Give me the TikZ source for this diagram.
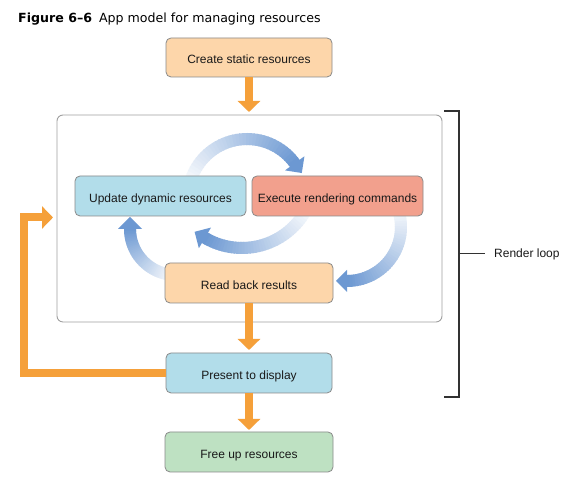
\documentclass[tikz,border=0pt]{standalone}
\usepackage{fontspec}
\setmainfont{Liberation Sans}
\newfontfamily\titlefont{DejaVu Sans}
\usetikzlibrary{arrows.meta,calc}
\definecolor{peach}{RGB}{253,214,170}
\definecolor{skyblue}{RGB}{178,221,234}
\definecolor{salmon}{RGB}{242,160,141}
\definecolor{mint}{RGB}{190,225,194}
\definecolor{boxgray}{RGB}{138,138,138}
\definecolor{framegray}{RGB}{160,160,160}
\definecolor{orarrow}{RGB}{245,160,58}
\definecolor{arrowblue}{RGB}{108,152,210}
\definecolor{bracketgray}{RGB}{50,50,50}
\tikzset{
  stepbox/.style={draw=boxgray, line width=0.8pt, rounded corners=5pt,
    minimum width=167pt, minimum height=40pt, inner sep=0pt, outer sep=0pt,
    text height=12.5pt, text depth=0pt,
    font=\fontsize{12}{14}\selectfont, text=black!90},
  framebox/.style={draw=framegray, line width=0.9pt, rounded corners=6pt,
    inner sep=0pt, outer sep=0pt},
  orflow/.style={draw=orarrow, line width=8pt, line join=miter,
    -{Triangle[width=22pt,length=11pt]}},
  bracketline/.style={draw=bracketgray, line width=1.4pt}
}
% cx cy r start end headlength halfheadwidth
\newcommand{\gradarrow}[7]{%
  \foreach \i in {0,...,39}{%
    \pgfmathsetmacro\aa{#4+(#5-#4)*\i/40}%
    \pgfmathsetmacro\ab{#4+(#5-#4)*(\i+1.4)/40}%
    \pgfmathtruncatemacro\pc{5+95*\i/39}%
    \draw[line width=12pt, draw=arrowblue!\pc!white] (#1,#2) ++(\aa:#3)
      arc[start angle=\aa, end angle=\ab, radius=#3];
  }%
  \fill[arrowblue] ($(#1,#2)+(#5:#3+#7)$) -- ($(#1,#2)+(#5:#3)+(#5-90:#6)$)
    -- ($(#1,#2)+(#5:#3-#7)$) -- cycle;
}
\begin{document}
\begin{tikzpicture}[x=1pt,y=1pt]
\useasboundingbox[fill=white] (0,0) rectangle (576,486);

\node[anchor=base west, inner sep=0pt, font=\titlefont\fontsize{12.6}{14}\selectfont] (title) at (18,463)
  {\textbf{Figure 6–6}\hspace{7pt}App model for managing resources};

\node[framebox, minimum width=385pt, minimum height=207pt] (frame) at (249.5,267.5) {};

% curved blue arrows
\gradarrow{247}{288}{59}{165}{36}{12}{12}
\gradarrow{242}{311}{73}{332}{239.5}{12}{12}
\gradarrow{176}{257}{46}{265}{180}{12}{12}
\gradarrow{347}{259}{54}{20}{-90}{11}{11}

\node[stepbox, fill=peach, minimum width=166pt, minimum height=39pt] (create) at (249,428.5) {Create static resources};
\node[stepbox, fill=skyblue, minimum width=171pt] (update) at (160.5,290) {Update dynamic resources};
\node[stepbox, fill=salmon, minimum width=171pt] (execute) at (337.5,290) {Execute rendering commands};
\node[stepbox, fill=peach, minimum width=168pt] (read) at (249,203) {Read back results};
\node[stepbox, fill=skyblue, minimum width=166pt] (present) at (249,113) {Present to display};
\node[stepbox, fill=mint, minimum width=168pt] (free) at (249,34) {Free up resources};

% orange flow arrows
\draw[orflow, shorten >=3pt] (create.south) -- (create.south |- frame.north);
\draw[orflow, shorten >=3pt] (read.south) -- (present.north);
\draw[orflow, shorten >=2pt] (present.south) -- (free.north);
\coordinate (loopcorner) at (24,268.5);
\coordinate (looptip) at (53,268.5);
\draw[orflow] (present.west) -| (loopcorner) -- (looptip);

% bracket
\coordinate (bt) at (459,375);
\coordinate (bb) at (459,89);
\coordinate (bm) at (459,232);
\node[anchor=west, inner sep=0pt, font=\fontsize{12}{14}\selectfont, text=black!90] (loop) at (494,232) {Render loop};
\draw[bracketline] ($(bt)+(-15,0)$) -- (bt) -- (bb) -- ($(bb)+(-15,0)$);
\draw[draw=bracketgray, line width=1pt] (bm) -- ($(loop.west)+(-9,0)$);
\end{tikzpicture}
\end{document}
